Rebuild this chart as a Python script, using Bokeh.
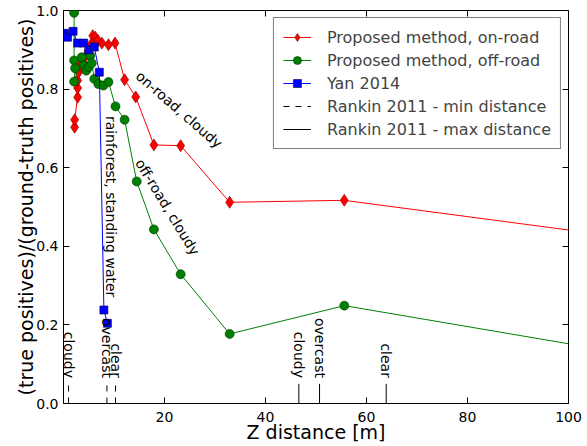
import numpy as np
from bokeh.plotting import figure
from bokeh.models import (LinearAxis, FixedTicker, PrintfTickFormatter, Range1d,
                          CustomJSTickFormatter)
from bokeh.embed import file_html
from bokeh.resources import INLINE
from bokeh.core.properties import value

# ---------------- data ----------------
onroad_x = [2.2, 2.2, 2.8, 2.8, 2.8, 3.0, 3.4, 4.2, 4.9, 5.5, 5.8, 6.3, 6.8, 7.6, 8.9, 10.2,
            12.1, 14.3, 17.9, 23.2, 32.9, 55.6, 112.0]
onroad_y = [0.703, 0.722, 0.779, 0.803, 0.822, 0.843, 0.862, 0.880, 0.898, 0.915, 0.936, 0.932,
            0.924, 0.917, 0.913, 0.917, 0.824, 0.780, 0.658, 0.656, 0.512, 0.517, 0.421]

offroad_x = [2.1, 2.1, 2.3, 2.1, 3.6, 4.1, 4.5, 5.0, 5.3, 5.6, 6.1, 6.9, 7.9, 8.9, 10.3,
             12.1, 14.5, 17.9, 23.2, 32.9, 55.6, 111.0]
offroad_y = [0.994, 0.873, 0.853, 0.819, 0.881, 0.860, 0.847, 0.856, 0.885, 0.866, 0.826, 0.813,
             0.809, 0.818, 0.756, 0.722, 0.565, 0.443, 0.329, 0.177, 0.249, 0.128]

yan_x = [0.2, 0.8, 1.9, 2.8, 4.0, 5.0, 6.1, 7.1, 8.0, 8.7]
yan_y = [0.942, 0.932, 0.947, 0.917, 0.917, 0.900, 0.907, 0.843, 0.238, 0.204]

rankin_conditions = ["cloudy", "overcast", "clear"]
rankin_min = [1.0, 8.6, 10.3]
rankin_max = [46.6, 50.7, 63.9]
rankin_bar_top = 0.05
rankin_label_y = 0.065

annot_text = ["on-road, cloudy", "off-road, cloudy", "rainforest, standing water"]
annot_x = [22.9, 20.6, 9.35]
annot_y = [0.748, 0.500, 0.501]
annot_angle = [-41.0, -58.6, -90.0]

x_ticks = [20, 40, 60, 80, 100]
y_ticks = [0.0, 0.2, 0.4, 0.6, 0.8, 1.0]

FONT = "DejaVu Sans"

# ---------------- figure ----------------
p = figure(width=587, height=446, output_backend="svg", toolbar_location=None,
           x_range=Range1d(0, 100), y_range=Range1d(0, 1.0),
           min_border_left=63, min_border_right=19, min_border_top=10, min_border_bottom=43)
p.background_fill_color = "white"
p.border_fill_color = "white"
p.outline_line_color = "black"
p.outline_line_width = 1
p.grid.visible = False

for ax in (p.xaxis[0], p.yaxis[0]):
    ax.major_tick_in = 6
    ax.major_tick_out = 0
    ax.minor_tick_line_color = None
    ax.axis_line_color = "black"
    ax.major_tick_line_color = "black"
    ax.major_label_text_font = FONT
    ax.major_label_text_font_size = "14px"
    ax.major_label_text_color = "black"
    ax.axis_label_text_font = FONT
    ax.axis_label_text_font_size = "19px"
    ax.axis_label_text_font_style = "normal"
    ax.axis_label_text_color = "black"

p.xaxis[0].ticker = FixedTicker(ticks=x_ticks)
p.yaxis[0].ticker = FixedTicker(ticks=y_ticks)
p.yaxis[0].formatter = PrintfTickFormatter(format="%.1f")
p.xaxis[0].axis_label = "Z distance [m]"
p.yaxis[0].axis_label = "(true positives)/(ground-truth positives)"
p.xaxis[0].major_label_standoff = 8
p.xaxis[0].axis_label_standoff = -4
p.yaxis[0].major_label_standoff = 5
p.yaxis[0].axis_label_standoff = -4

blank = CustomJSTickFormatter(code="return ''")
top = LinearAxis(ticker=FixedTicker(ticks=x_ticks), major_tick_in=6, major_tick_out=0,
                 minor_tick_line_color=None, axis_line_color=None,
                 formatter=blank, major_label_standoff=0)
right = LinearAxis(ticker=FixedTicker(ticks=y_ticks), major_tick_in=6, major_tick_out=0,
                   minor_tick_line_color=None, axis_line_color=None,
                   formatter=blank, major_label_standoff=0)
p.add_layout(top, "above")
p.add_layout(right, "right")

# ---------------- series ----------------
L1 = "Proposed method, on-road"
L2 = "Proposed method, off-road"
L3 = "Yan 2014"
p.line(onroad_x, onroad_y, line_color="#ff0000", line_width=1, legend_label=L1)
p.scatter(onroad_x, onroad_y, marker="diamond", size=12, fill_color="#ff0000",
          line_color="#800000", line_width=0.6, legend_label=L1)

p.line(offroad_x, offroad_y, line_color="#008000", line_width=1, legend_label=L2)
p.scatter(offroad_x, offroad_y, marker="circle", size=9, fill_color="#008000",
          line_color="#003000", line_width=0.6, legend_label=L2)

p.line(yan_x, yan_y, line_color="#0000ff", line_width=1, legend_label=L3)
p.scatter(yan_x, yan_y, marker="square", size=8, fill_color="#0000ff",
          line_color="#000050", line_width=0.6, legend_label=L3)

# Rankin 2011 vertical markers
zeros = [0.0] * len(rankin_min)
tops = [rankin_bar_top] * len(rankin_min)
p.segment(x0=rankin_min, y0=zeros, x1=rankin_min, y1=tops, line_color="black",
          line_width=1, line_dash="6 6", legend_label="Rankin 2011 - min distance")
p.segment(x0=rankin_max, y0=zeros, x1=rankin_max, y1=tops, line_color="black",
          line_width=1, legend_label="Rankin 2011 - max distance")

lbl_y = [rankin_label_y] * len(rankin_conditions)
p.text(x=rankin_min, y=lbl_y, text=rankin_conditions, angle=-90, angle_units="deg",
       text_align="right", text_baseline="middle", text_font=value(FONT),
       text_font_size="14px", text_color="black")
p.text(x=rankin_max, y=lbl_y, text=rankin_conditions, angle=-90, angle_units="deg",
       text_align="right", text_baseline="middle", text_font=value(FONT),
       text_font_size="14px", text_color="black")

p.text(x=annot_x, y=annot_y, text=annot_text, angle=annot_angle, angle_units="deg",
       text_align="center", text_baseline="middle", text_font=value(FONT),
       text_font_size="14px", text_color="black")

# ---------------- legend ----------------
lg = p.legend[0]
lg.location = "top_right"
lg.margin = 7
lg.padding = 9
lg.spacing = 3
lg.glyph_width = 28
lg.label_standoff = 16
lg.label_text_font = FONT
lg.label_text_font_size = "16px"
lg.border_line_color = "black"
lg.border_line_width = 1
lg.background_fill_color = "white"
lg.background_fill_alpha = 1.0

open("out.html", "w").write(file_html(p, INLINE))
